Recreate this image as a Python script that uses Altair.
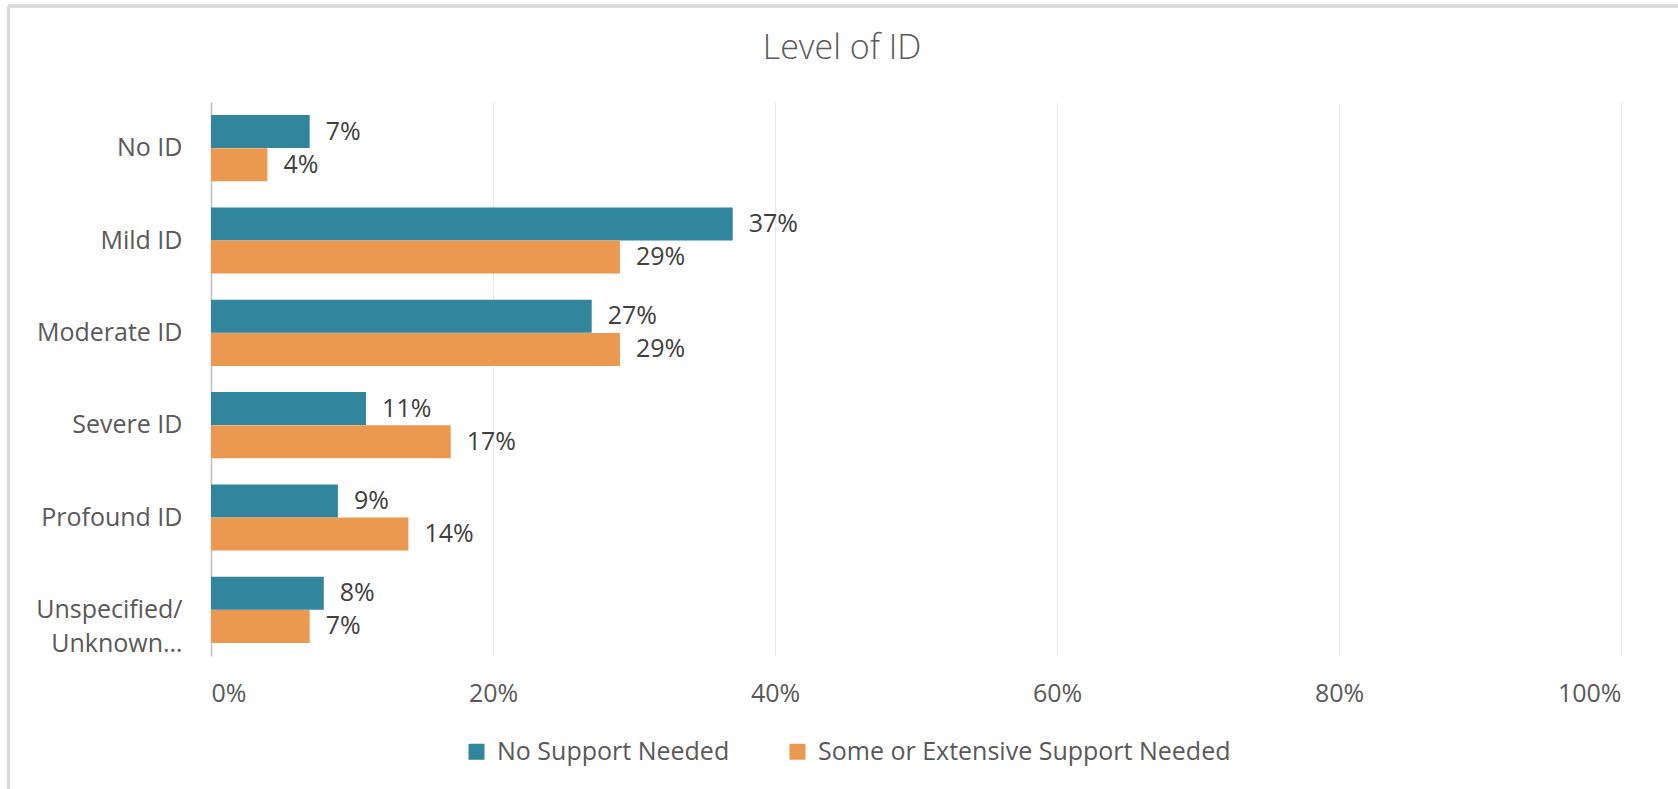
import altair as alt
import pandas as pd

categories = ["No ID", "Mild ID", "Moderate ID", "Severe ID", "Profound ID", "Unspecified/Unknown…"]
series = ["No Support Needed", "Some or Extensive Support Needed"]
no_support = [7, 37, 27, 11, 9, 8]
some_support = [4, 29, 29, 17, 14, 7]
x_ticks = [0, 20, 40, 60, 80, 100]
colors = ["#31859C", "#EB9850"]

rows = []
for c, a, b in zip(categories, no_support, some_support):
    rows.append({"cat": c, "series": series[0], "value": a})
    rows.append({"cat": c, "series": series[1], "value": b})
df = pd.DataFrame(rows)

FONT = "Open Sans"

base = alt.Chart(df).encode(
    y=alt.Y(
        "cat:N",
        sort=categories,
        scale=alt.Scale(paddingInner=0.28, paddingOuter=0.14),
        axis=alt.Axis(
            title=None,
            ticks=False,
            domain=True,
            domainColor="#BFBFBF",
            domainWidth=1.5,
            labelFont=FONT,
            labelFontSize=25,
            labelColor="#595959",
            labelPadding=29,
            labelLineHeight=34,
            labelLimit=400,
            labelExpr="datum.value == 'Unspecified/Unknown…' ? ['Unspecified/', 'Unknown…'] : datum.label",
        ),
    ),
    yOffset=alt.YOffset("series:N", sort=series),
)

bars = base.mark_bar(size=33).encode(
    x=alt.X(
        "value:Q",
        scale=alt.Scale(domain=[0, 100]),
        axis=alt.Axis(
            title=None,
            values=x_ticks,
            labelExpr="datum.value + '%'",
            grid=True,
            gridColor="#E8E8E8",
            gridWidth=1,
            domain=False,
            ticks=False,
            labelFont=FONT,
            labelFontSize=25,
            labelColor="#595959",
            labelPadding=25,
        ),
    ),
    color=alt.Color(
        "series:N",
        sort=series,
        scale=alt.Scale(domain=series, range=colors),
        legend=alt.Legend(
            title=None,
            orient="none",
            direction="horizontal",
            legendX=253,
            legendY=637,
            symbolType="square",
            symbolSize=256,
            symbolStrokeWidth=0,
            labelFont=FONT,
            labelFontSize=25,
            labelColor="#595959",
            labelOffset=8,
            columnPadding=55,
            labelLimit=600,
        ),
    ),
)

labels = base.mark_text(
    align="left", baseline="middle", dx=16, font=FONT, fontSize=25, color="#404040"
).transform_calculate(lab="datum.value + '%'").encode(
    x="value:Q",
    text="lab:N",
)

border_top = alt.Chart(df).mark_rule(color="#D9D9D9", strokeWidth=2.5).encode(
    x=alt.value(-203), x2=alt.value(1467), y=alt.value(-96)
)
border_left = alt.Chart(df).mark_rule(color="#D9D9D9", strokeWidth=2.5).encode(
    x=alt.value(-202.5), y=alt.value(-96), y2=alt.value(687)
)

chart = (
    alt.layer(bars, labels, border_top, border_left)
    .properties(
        width=1410,
        height=554,
        background="white",
        autosize=alt.AutoSizeParams(type="none"),
        padding={"left": 211, "top": 102, "right": 57, "bottom": 133},
        title=alt.TitleParams(
            "Level of ID",
            font=FONT,
            fontSize=34,
            fontWeight=300,
            color="#595959",
            anchor="middle",
            frame="group",
            dx=-74,
            offset=-88,
            baseline="alphabetic",
        ),
    )
    .configure_view(strokeWidth=0, stroke=None)
)

chart.save("out.html", embed_options={"renderer": "svg", "actions": False})
